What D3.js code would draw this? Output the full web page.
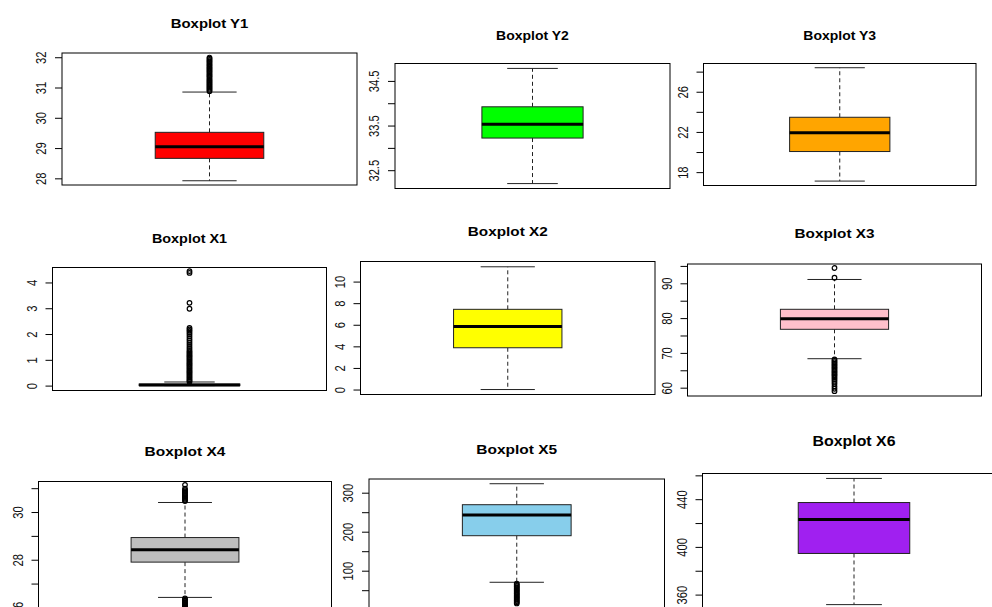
<!DOCTYPE html>
<html>
<head>
<meta charset="utf-8">
<script src="https://d3js.org/d3.v7.min.js"></script>
<style>
  body { margin: 0; background: #fff; }
  svg { display: block; font-family: "Liberation Sans", Arial, sans-serif; }
</style>
</head>
<body>
<svg id="chart" width="992" height="607"></svg>
<script>
// values
var titles = ["Boxplot Y1", "Boxplot Y2", "Boxplot Y3",
  "Boxplot X1", "Boxplot X2", "Boxplot X3",
  "Boxplot X4", "Boxplot X5", "Boxplot X6"];

var lowWhiskers = [27.92, 32.20, 17.11, 0.00, 0.00, 68.33, 26.42, 70.3, 351.6];
var q1s = [28.66, 33.22, 20.05, 0.00, 3.87, 76.78, 27.90, 189.7, 394.5];
var medians = [29.04, 33.53, 21.93, 0.02, 5.85, 79.83, 28.42, 242.8, 423.0];
var q3s = [29.52, 33.92, 23.46, 0.06, 7.43, 82.53, 28.93, 269.2, 437.2];
var highWhiskers = [30.85, 34.78, 28.39, 0.14, 11.37, 91.10, 30.40, 323.0, 457.4];

var outliersY1 = [30.88, 30.92, 30.96, 31.0, 31.04, 31.08, 31.12, 31.16, 31.2, 31.24,
  31.28, 31.33, 31.37, 31.41, 31.45, 31.5, 31.54, 31.58, 31.62, 31.66, 31.7, 31.74,
  31.78, 31.83, 31.87, 31.91, 31.95, 31.99];
var outliersX1 = [0.15, 0.2, 0.25, 0.3, 0.35, 0.4, 0.45, 0.5, 0.55, 0.6, 0.65, 0.7,
  0.75, 0.8, 0.85, 0.9, 0.95, 1.0, 1.05, 1.1, 1.15, 1.2, 1.25, 1.3, 1.35,
  1.42, 1.5, 1.58, 1.66, 1.74, 1.82, 1.9, 1.98, 2.05, 2.12, 2.18, 2.24,
  2.98, 3.21, 4.37, 4.44];
var outliersX3 = [91.6, 94.4, 68.1, 67.7, 67.3, 66.9, 66.5, 66.1, 65.7, 65.3, 64.9,
  64.5, 64.1, 63.7, 63.3, 62.8, 62.3, 61.7, 61.1, 60.4, 59.7, 59.0];
var outliersX4 = [30.46, 30.51, 30.56, 30.61, 30.66, 30.71, 30.76, 30.81, 30.86,
  30.92, 30.98, 31.14, 26.38, 26.33, 26.28, 26.23, 26.18, 26.13, 26.08, 26.03,
  25.98, 25.93];
var outliersX5 = [67, 64, 61, 58, 55, 52, 49, 46, 43, 40, 37, 34, 31, 28, 25, 22, 19, 16];
var outliers = [outliersY1, [], [], outliersX1, [], outliersX3, outliersX4, outliersX5, []];

var tickValues = [
  [28, 29, 30, 31, 32],
  [32.5, 33, 33.5, 34, 34.5],
  [18, 20, 22, 24, 26, 28],
  [0, 1, 2, 3, 4],
  [0, 2, 4, 6, 8, 10],
  [60, 65, 70, 75, 80, 85, 90, 95],
  [26, 27, 28, 29, 30, 31],
  [50, 100, 150, 200, 250, 300],
  [360, 380, 400, 420, 440, 460]
];
var tickLabels = [
  ["28", "29", "30", "31", "32"],
  ["32.5", "", "33.5", "", "34.5"],
  ["18", "", "22", "", "26", ""],
  ["0", "1", "2", "3", "4"],
  ["0", "2", "4", "6", "8", "10"],
  ["60", "", "70", "", "80", "", "90", ""],
  ["26", "", "28", "", "30", ""],
  ["", "100", "", "200", "", "300"],
  ["360", "", "400", "", "440", ""]
];

// y limits of each plot region
var yLimits = [[27.78, 32.14], [32.09, 34.89], [16.67, 28.81], [-0.19, 4.58],
  [-0.46, 11.86], [57.61, 95.55], [25.2, 31.28], [4, 335.1], [347.4, 461.55]];

// styles and layout
var fills = ["#ff0000", "#00ff00", "#ffa500", "#ffffff", "#ffff00", "#ffc0cb",
  "#bebebe", "#87ceeb", "#a020f0"];

var frames = [
  { left: 62, top: 53, right: 357, bottom: 185, titleY: 28, titleSize: 14.9 },
  { left: 395, top: 63.5, right: 670, bottom: 188.5, titleY: 39.5, titleSize: 14 },
  { left: 703.5, top: 63.5, right: 976, bottom: 185.5, titleY: 39.5, titleSize: 14 },
  { left: 52.5, top: 267.5, right: 326.5, bottom: 390.5, titleY: 243, titleSize: 14.4 },
  { left: 360.5, top: 261.5, right: 655, bottom: 394.5, titleY: 235.5, titleSize: 15.3 },
  { left: 687.5, top: 264, right: 981.5, bottom: 396, titleY: 238, titleSize: 15.3 },
  { left: 38.5, top: 481.5, right: 331.5, bottom: 0, titleY: 455.5, titleSize: 15.5 },
  { left: 369, top: 479, right: 664.5, bottom: 0, titleY: 453.5, titleSize: 15.5 },
  { left: 702.5, top: 473.5, right: 1005.5, bottom: 0, titleY: 446, titleSize: 15.9 }
];

var boxHalf = 0.184,
  capHalf = 0.092;

var svg = d3.select("#chart");

titles.forEach(function (title, i) {
  var f = frames[i];
  var w = f.right - f.left;

  var y = d3.scaleLinear().domain(yLimits[i]);
  // bottom of the lower panels is cut by the window, so work from the top
  if (f.bottom) {
    y.range([f.bottom - f.top, 0]);
  } else {
    var pxPerUnit = (i == 6) ? 23.85 : (i == 7 ? 0.39 : 1.1925);
    y.range([(yLimits[i][1] - yLimits[i][0]) * pxPerUnit, 0]);
  }
  var h = y.range()[0];

  var x = d3.scaleLinear().domain([0, 1]).range([0, w]);

  var g = svg.append("g")
    .attr("transform", "translate(" + f.left + "," + f.top + ")");

  // title
  svg.append("text")
    .attr("transform", "translate(" + (f.left + w / 2) + "," + f.titleY + ") scale(1,0.88)")
    .attr("text-anchor", "middle")
    .attr("font-weight", "bold")
    .attr("font-size", f.titleSize)
    .attr("fill", "#000")
    .text(title);

  // y axis
  var ax = g.append("g")
    .call(d3.axisLeft(y)
      .tickValues(tickValues[i])
      .tickSize(7)
      .tickFormat(function (d, j) {
        return tickLabels[i][j];
      }));
  ax.attr("font-size", null).attr("font-family", null);
  ax.select(".domain").remove();
  ax.selectAll(".tick line").attr("stroke", "#000");
  ax.selectAll(".tick text")
    .attr("x", null)
    .attr("dy", null)
    .attr("fill", "#111")
    .attr("font-size", 14)
    .attr("text-anchor", "middle")
    .attr("transform", "translate(-16,0) rotate(-90) scale(0.8,1)");

  var cx = x(0.5);

  // whiskers
  g.append("line")
    .attr("x1", cx).attr("x2", cx)
    .attr("y1", y(q3s[i])).attr("y2", y(highWhiskers[i]))
    .attr("stroke", "#222")
    .attr("stroke-dasharray", "4,3");
  g.append("line")
    .attr("x1", cx).attr("x2", cx)
    .attr("y1", y(q1s[i])).attr("y2", y(lowWhiskers[i]))
    .attr("stroke", "#222")
    .attr("stroke-dasharray", "4,3");

  // staples
  g.selectAll(".cap")
    .data([lowWhiskers[i], highWhiskers[i]])
    .enter().append("line")
    .attr("class", "cap")
    .attr("x1", x(0.5 - capHalf))
    .attr("x2", x(0.5 + capHalf))
    .attr("y1", function (d) { return y(d); })
    .attr("y2", function (d) { return y(d); })
    .attr("stroke", "#222");

  // box
  g.append("rect")
    .attr("x", x(0.5 - boxHalf))
    .attr("width", x(0.5 + boxHalf) - x(0.5 - boxHalf))
    .attr("y", y(q3s[i]))
    .attr("height", Math.max(y(q1s[i]) - y(q3s[i]), 0.5))
    .attr("fill", fills[i])
    .attr("stroke", "#222");

  // median
  g.append("line")
    .attr("x1", x(0.5 - boxHalf))
    .attr("x2", x(0.5 + boxHalf))
    .attr("y1", y(medians[i]))
    .attr("y2", y(medians[i]))
    .attr("stroke", "#000")
    .attr("stroke-width", 3);

  // outliers
  g.selectAll(".out")
    .data(outliers[i])
    .enter().append("circle")
    .attr("class", "out")
    .attr("cx", cx)
    .attr("cy", function (d) { return y(d); })
    .attr("r", 2.3)
    .attr("fill", "none")
    .attr("stroke", "#000")
    .attr("stroke-width", 1.2);

  // frame
  g.append("rect")
    .attr("width", w)
    .attr("height", h)
    .attr("fill", "none")
    .attr("stroke", "#000");
});
</script>
</body>
</html>
